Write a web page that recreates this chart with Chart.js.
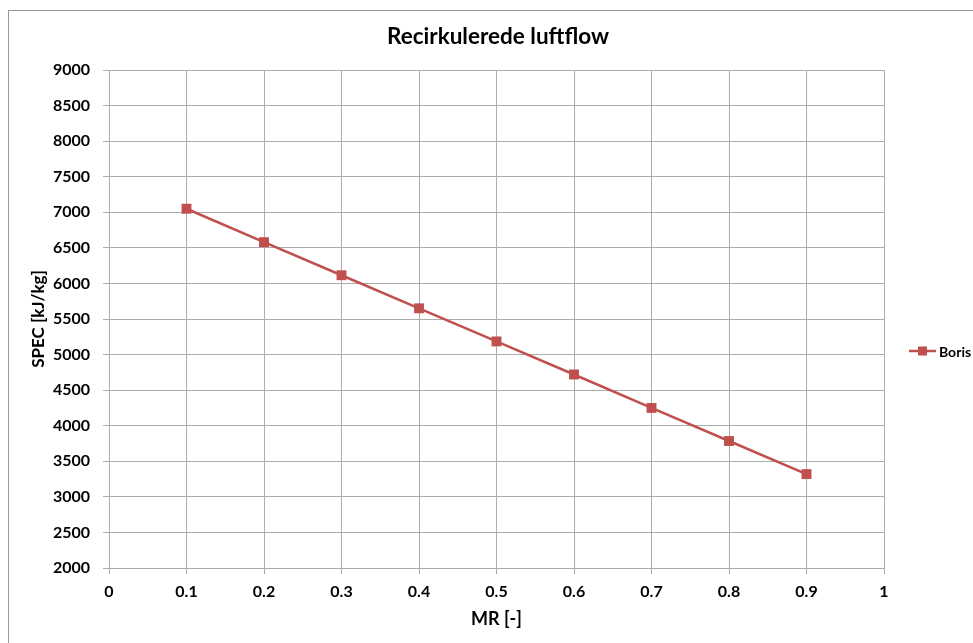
<!DOCTYPE html>
<html>
<head>
<meta charset="utf-8">
<script src="https://cdn.jsdelivr.net/npm/chart.js@4"></script>
<style>
  html, body { margin: 0; padding: 0; background: #fff; overflow: hidden; }
  #wrap { position: relative; width: 973px; height: 643px; }
  #frame { position: absolute; left: 8px; top: 10px; width: 1000px; height: 700px; border: 1px solid #9a9a9a; box-sizing: border-box; }
  canvas { position: absolute; left: 0; top: 0; }
</style>
</head>
<body>
<div id="wrap">
  <div id="frame"></div>
  <canvas id="c" width="973" height="643"></canvas>
</div>
<script>
// Recirkulerede luftflow — SPEC vs MR

const TITLE = 'Recirkulerede luftflow';
const X_TITLE = 'MR [-]';
const Y_TITLE = 'SPEC [kJ/kg]';

const SERIES_NAME = 'Boris';
const MR   = [0.1, 0.2, 0.3, 0.4, 0.5, 0.6, 0.7, 0.8, 0.9];
const SPEC = [7050, 6580, 6115, 5650, 5185, 4720, 4250, 3785, 3320];

const X_RANGE = [0, 1, 0.1];
const Y_RANGE = [2000, 9000, 500];

const RED  = '#C0504D';
const GRID = '#acacac';
const FONT = "Lato, 'Open Sans', sans-serif";

// title centred on the whole picture (Excel style), not on the plot box
const pageTitle = {
  id: 'pageTitle',
  afterDraw(chart) {
    const ctx = chart.ctx;
    ctx.save();
    ctx.fillStyle = '#000';
    ctx.font = 'bold 22.5px ' + FONT;
    ctx.textAlign = 'center';
    ctx.textBaseline = 'middle';
    ctx.fillText(TITLE, 498, 37);
    ctx.restore();
  }
};

// legend drawn in the right margin (line + square marker)
const sideLegend = {
  id: 'sideLegend',
  afterDraw(chart) {
    const ctx = chart.ctx;
    const ds = chart.data.datasets[0];
    const x0 = chart.chartArea.right + 25;
    const y = (chart.chartArea.top + chart.chartArea.bottom) / 2 + 32;
    ctx.save();
    ctx.strokeStyle = ds.borderColor;
    ctx.lineWidth = ds.borderWidth;
    ctx.beginPath();
    ctx.moveTo(x0, y);
    ctx.lineTo(x0 + 27, y);
    ctx.stroke();
    ctx.fillStyle = ds.pointBackgroundColor;
    ctx.fillRect(x0 + 9, y - 4.5, 9, 9);
    ctx.fillStyle = '#000';
    ctx.font = 'bold 14px ' + FONT;
    ctx.textBaseline = 'middle';
    ctx.fillText(ds.label, x0 + 30, y + 1);
    ctx.restore();
  }
};

new Chart(document.getElementById('c'), {
  type: 'scatter',
  data: {
    datasets: [{
      label: SERIES_NAME,
      data: MR.map((x, i) => ({ x: x, y: SPEC[i] })),
      showLine: true,
      borderColor: RED,
      borderWidth: 2.5,
      pointStyle: 'rect',
      pointRadius: 7,
      pointHoverRadius: 7,
      pointBackgroundColor: RED,
      pointBorderColor: RED,
      pointBorderWidth: 0
    }]
  },
  options: {
    responsive: false,
    animation: false,
    layout: { padding: { left: 8, top: 70, right: 89, bottom: 9 } },
    plugins: {
      legend: { display: false },
      tooltip: { enabled: false },
      title: { display: false }
    },
    scales: {
      x: {
        type: 'linear',
        min: X_RANGE[0], max: X_RANGE[1],
        afterFit: s => { s.height = 66; },
        ticks: {
          stepSize: X_RANGE[2],
          color: '#000',
          padding: 8,
          font: { family: FONT, size: 16, weight: 'bold' },
          callback: v => String(Math.round(v * 10) / 10)
        },
        grid: { color: GRID, tickLength: 6, tickColor: GRID },
        border: { color: GRID },
        title: {
          display: true, text: X_TITLE, color: '#000',
          font: { family: FONT, size: 18, weight: 'bold' },
          padding: { top: 0, bottom: 4 }
        }
      },
      y: {
        type: 'linear',
        min: Y_RANGE[0], max: Y_RANGE[1],
        afterFit: s => { s.width = 101; },
        ticks: {
          stepSize: Y_RANGE[2],
          color: '#000',
          padding: 13,
          font: { family: FONT, size: 16, weight: 'bold' },
          callback: v => String(v)
        },
        grid: { color: GRID, tickLength: 6, tickColor: GRID },
        border: { color: GRID },
        title: {
          display: true, text: Y_TITLE, color: '#000',
          font: { family: FONT, size: 17, weight: 'bold' },
          padding: { top: 20, bottom: 3 }
        }
      }
    }
  },
  plugins: [pageTitle, sideLegend]
});
</script>
</body>
</html>
